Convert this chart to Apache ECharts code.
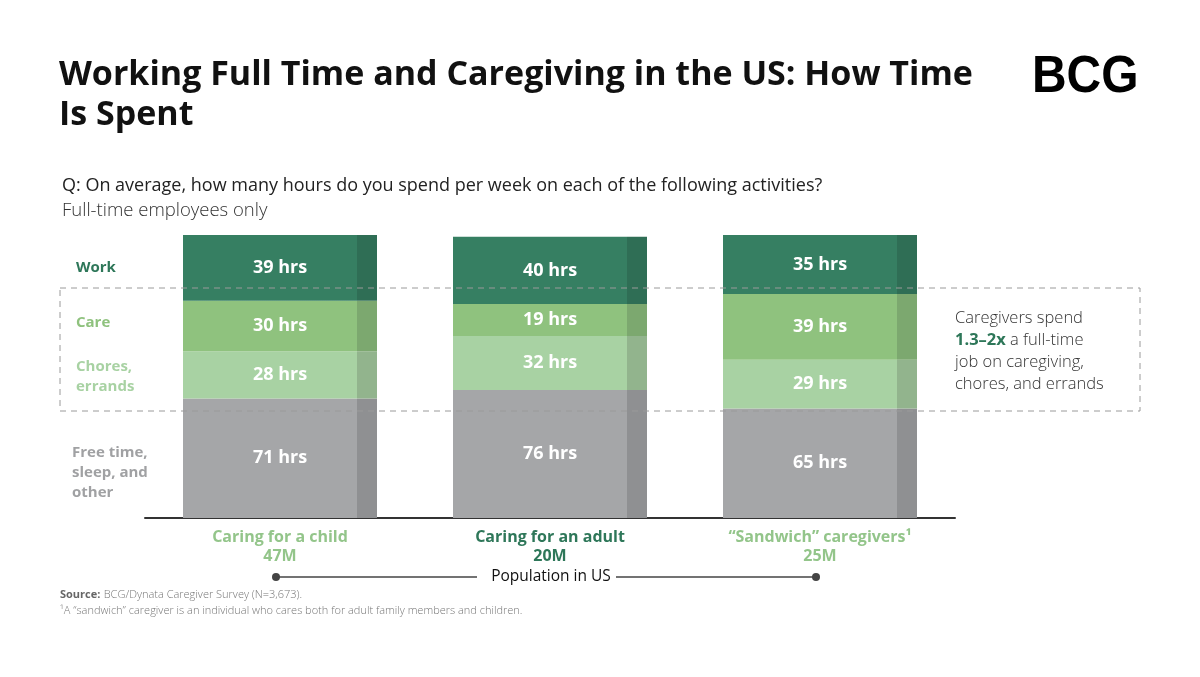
<!DOCTYPE html>
<html><head><meta charset="utf-8">
<script src="https://cdn.jsdelivr.net/npm/echarts@6/dist/echarts.min.js"></script>
<style>html,body{margin:0;padding:0;background:#fff}#c{width:1200px;height:677px}</style>
</head><body><div id="c"></div>
<script>
const categories = ['Caring for a child', 'Caring for an adult', '“Sandwich” caregivers¹'];
const populations = ['47M', '20M', '25M'];
const freeTime = [71, 76, 65];
const chores = [28, 32, 29];
const care = [30, 19, 39];
const work = [39, 40, 35];
const seriesNames = ['Free time, sleep, and other', 'Chores, errands', 'Care', 'Work'];

const FONT = '"Open Sans", "Noto Sans", sans-serif';
function strip(main, dark) {
  return {type:'linear', x:0, y:0, x2:1, y2:0, colorStops:[
    {offset:0, color:main},{offset:0.897, color:main},{offset:0.897, color:dark},{offset:1, color:dark}]};
}
const segColors = [
  strip('#A5A6A8', '#8F9092'),
  strip('#A8D2A3', '#92B48D'),
  strip('#8FC27E', '#7CA86F'),
  strip('#367F62', '#2F6E55')
];
const catColors = ['#93C58A', '#2E7759', '#93C58A'];
const dataSets = [freeTime, chores, care, work];

const chart = echarts.init(document.getElementById('c'), null, {renderer:'canvas'});
chart.setOption({
  animation: false,
  textStyle: {fontFamily: FONT},
  grid: {left: 145, width: 810, top: 235, height: 283},
  xAxis: {
    type: 'category', data: categories,
    axisLine: {lineStyle: {color: '#333', width: 2}},
    axisTick: {show: false},
    axisLabel: {
      margin: 10,
      formatter: function (v, i) { return '{c' + i + '|' + v + '}\n{c' + i + '|' + populations[i] + '}'; },
      rich: {
        c0: {color: catColors[0], fontWeight: 'bold', fontSize: 16, lineHeight: 19, fontFamily: FONT},
        c1: {color: catColors[1], fontWeight: 'bold', fontSize: 16, lineHeight: 19, fontFamily: FONT},
        c2: {color: catColors[2], fontWeight: 'bold', fontSize: 16, lineHeight: 19, fontFamily: FONT}
      }
    }
  },
  yAxis: {type: 'value', min: 0, max: 168, show: false, splitLine: {show: false}},
  series: dataSets.map((d, k) => ({
    name: seriesNames[k], type: 'bar', stack: 'total', data: d, barWidth: 194,
    itemStyle: {color: segColors[k]},
    label: {show: true, position: 'inside', formatter: '{c} hrs', color: '#fff',
            fontWeight: 'bold', fontSize: 18, fontFamily: FONT}
  })),
  graphic: [
    {type:'text', left: 59, top: 55, style:{text:'Working Full Time and Caregiving in the US: How Time\nIs Spent',
      font:'bold 34px ' + FONT, fill:'#111', lineHeight: 40}},
    {type:'text', left: 1032, top: 52, scaleX: 0.94, style:{text:'BCG', font:'900 51px "Liberation Sans", Arial, sans-serif', fill:'#000'}},
    {type:'text', left: 62, top: 177, style:{text:'Q: On average, how many hours do you spend per week on each of the following activities?',
      font:'18px ' + FONT, fill:'#222'}},
    {type:'text', left: 62, top: 201, style:{text:'Full-time employees only', font:'300 18.5px ' + FONT, fill:'#333'}},
    {type:'rect', shape:{x:60, y:288, width:1080, height:123}, z: 10,
      style:{fill:'none', stroke:'#9a9a9a', lineWidth:1, lineDash:[6,5]}},
    {type:'text', left: 76, top: 260, style:{text:'Work', font:'bold 15px ' + FONT, fill:'#2E7759'}},
    {type:'text', left: 76, top: 315, style:{text:'Care', font:'bold 15px ' + FONT, fill:'#8FC27E'}},
    {type:'text', left: 76, top: 357, style:{text:'Chores,\nerrands', font:'bold 15px ' + FONT, fill:'#A8D2A3', lineHeight: 20}},
    {type:'text', left: 72, top: 443, style:{text:'Free time,\nsleep, and\nother', font:'bold 15px ' + FONT, fill:'#A0A1A3', lineHeight: 20}},
    {type:'text', left: 955, top: 310, style:{
      text:'{n|Caregivers spend}\n{b|1.3–2x}{n| a full-time}\n{n|job on caregiving,}\n{n|chores, and errands}',
      rich:{n:{font:'300 16.5px ' + FONT, fill:'#333', lineHeight:22}, b:{font:'bold 16.5px ' + FONT, fill:'#2E7759', lineHeight:22}}}},
    {type:'line', shape:{x1:276, y1:577, x2:477, y2:577}, style:{stroke:'#444', lineWidth:1.3}},
    {type:'line', shape:{x1:616, y1:577, x2:816, y2:577}, style:{stroke:'#444', lineWidth:1.3}},
    {type:'circle', shape:{cx:276, cy:577, r:4}, style:{fill:'#444'}},
    {type:'circle', shape:{cx:816, cy:577, r:4}, style:{fill:'#444'}},
    {type:'text', x: 551, y: 577, style:{text:'Population in US', font:'15.5px ' + FONT, fill:'#111', align:'center', verticalAlign:'middle'}},
    {type:'text', left: 60, top: 589, style:{
      text:'{b|Source:} {n|BCG/Dynata Caregiver Survey (N=3,673).}\n{n|¹A “sandwich” caregiver is an individual who cares both for adult family members and children.}',
      rich:{b:{font:'bold 11px ' + FONT, fill:'#666', lineHeight:16}, n:{font:'300 11px ' + FONT, fill:'#777', lineHeight:16}}}}
  ]
});
</script></body></html>
